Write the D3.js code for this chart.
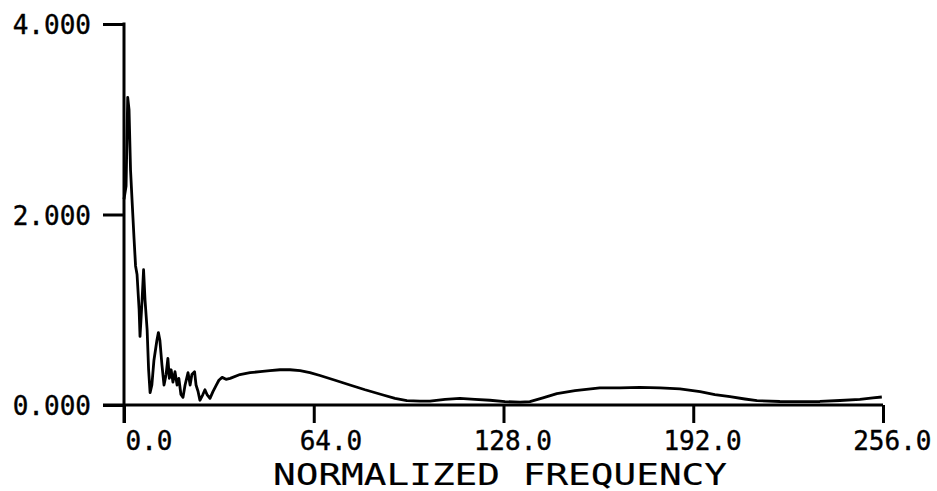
<!DOCTYPE html>
<html>
<head>
<meta charset="utf-8">
<script src="https://cdn.jsdelivr.net/npm/d3@7"></script>
<style>
  html, body { margin: 0; padding: 0; background: #fff; }
  svg { display: block; }
  text { font-family: "DejaVu Sans Mono", "Liberation Mono", monospace; fill: #000; stroke: #000; stroke-width: 0.4px; }
  text.title { stroke-width: 0.15px; }
</style>
</head>
<body>
<svg id="chart" width="937" height="491"></svg>
<script>
// ---- data ----
const frequency = [0, 0.7, 1.25, 1.7, 2.2, 2.7, 3.4, 3.9, 4.4, 5.1, 5.4, 6.1, 6.6, 7.1, 7.8, 8.3, 8.8,
  9.4, 10.1, 11.1, 11.6, 12.1, 12.8, 13.5, 14.2, 14.8, 15.3, 15.9, 16.5, 17.2, 17.9, 18.5, 19.2, 19.9,
  20.6, 21.6, 22.3, 22.9, 23.8, 24.3, 25.0, 25.6, 26.6, 27.3, 28.0, 29.0, 30.0, 31.0, 32.0, 33.1, 34.4,
  35.8, 39.1, 42.5, 45.9, 49.2, 52.6, 56.0, 59.4, 62.7, 66.1, 71.2, 76.2, 81.3, 87.4, 91.4, 95.4, 99.8,
  103.2, 108.3, 113.3, 118.4, 123.4, 128.5, 133.6, 136.9, 141.3, 146.0, 152.1, 160.5, 167.3, 174.0,
  180.8, 187.5, 194.3, 199.3, 204.4, 209.4, 213.5, 221.2, 228.0, 234.7, 241.5, 248.2, 252.6, 255.6];
const magnitude = [2.16, 2.3, 3.23, 3.1, 2.47, 2.16, 1.74, 1.46, 1.37, 1.0, 0.72, 1.1, 1.42, 1.1, 0.79, 0.37, 0.13,
  0.21, 0.47, 0.68, 0.76, 0.68, 0.42, 0.21, 0.32, 0.49, 0.28, 0.37, 0.24, 0.35, 0.21, 0.28, 0.11, 0.08,
  0.21, 0.34, 0.21, 0.32, 0.35, 0.21, 0.14, 0.05, 0.11, 0.16, 0.11, 0.07, 0.14, 0.20, 0.26, 0.29, 0.27,
  0.28, 0.32, 0.34, 0.35, 0.36, 0.37, 0.37, 0.36, 0.34, 0.31, 0.26, 0.21, 0.16, 0.105, 0.07, 0.045, 0.04,
  0.04, 0.06, 0.07, 0.06, 0.05, 0.035, 0.03, 0.035, 0.075, 0.12, 0.15, 0.18, 0.18, 0.185,
  0.18, 0.17, 0.14, 0.11, 0.087, 0.063, 0.045, 0.037, 0.035, 0.037, 0.047, 0.058, 0.074, 0.084];
const xTickValues = [0, 64, 128, 192, 256];
const yTickValues = [0, 2, 4];
const xAxisTitle = "NORMALIZED FREQUENCY";

// ---- layout ----
const svg = d3.select("#chart");
const x = d3.scaleLinear().domain([0, 256]).range([124, 883]);
const y = d3.scaleLinear().domain([0, 4]).range([405, 24]);

const data = frequency.map((f, i) => ({ f, v: magnitude[i] }));

// y axis
const yAxis = d3.axisLeft(y)
  .tickValues(yTickValues)
  .tickFormat(d3.format(".3f"))
  .tickSize(21)
  .tickSizeOuter(0)
  .tickPadding(12);
const gy = svg.append("g").attr("transform", `translate(${x(0)},0)`).call(yAxis);
gy.select(".domain").remove();
gy.selectAll(".tick line").attr("stroke", "#000").attr("stroke-width", 3);
gy.selectAll(".tick text")
  .attr("font-size", 26)
  .attr("font-family", "'DejaVu Sans Mono', monospace")
  .attr("dy", "0.38em")
  .attr("fill", "#000");
gy.append("line")
  .attr("x1", 0).attr("x2", 0)
  .attr("y1", y(4) - 1.5).attr("y2", y(0) + 18)
  .attr("stroke", "#000").attr("stroke-width", 3);

// x axis
const xAxis = d3.axisBottom(x)
  .tickValues(xTickValues)
  .tickFormat(d3.format(".1f"))
  .tickSize(18)
  .tickSizeOuter(0);
const gx = svg.append("g").attr("transform", `translate(0,${y(0)})`).call(xAxis);
gx.select(".domain").remove();
gx.selectAll(".tick line").attr("stroke", "#000").attr("stroke-width", 3);
gx.selectAll(".tick text")
  .attr("font-size", 26)
  .attr("font-family", "'DejaVu Sans Mono', monospace")
  .attr("text-anchor", "end")
  .attr("x", 48)
  .attr("y", 45)
  .attr("dy", 0)
  .attr("fill", "#000");
gx.append("line")
  .attr("x1", x(0) - 21).attr("x2", x(256))
  .attr("y1", 0).attr("y2", 0)
  .attr("stroke", "#000").attr("stroke-width", 3);

// curve
const line = d3.line().x(d => x(d.f)).y(d => y(d.v));
svg.append("path")
  .datum(data)
  .attr("d", line)
  .attr("fill", "none")
  .attr("stroke", "#000")
  .attr("stroke-width", 2.8)
  .attr("stroke-linejoin", "round");

// axis title
svg.append("text")
  .attr("class", "title")
  .attr("x", 273)
  .attr("y", 485)
  .attr("font-size", 30)
  .attr("textLength", 454)
  .attr("lengthAdjust", "spacingAndGlyphs")
  .text(xAxisTitle);
</script>
</body>
</html>
